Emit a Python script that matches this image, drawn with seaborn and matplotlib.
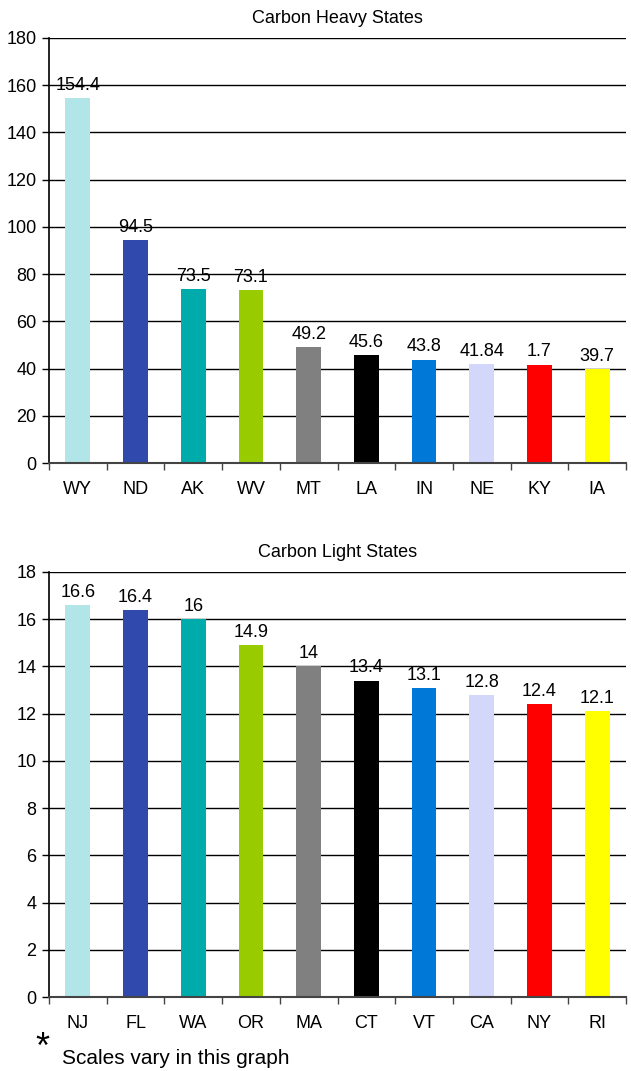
import matplotlib
matplotlib.use("Agg")
import matplotlib.pyplot as plt
import seaborn as sns
import numpy as np

heavy_states = ["WY", "ND", "AK", "WV", "MT", "LA", "IN", "NE", "KY", "IA"]
heavy_values = [154.4, 94.5, 73.5, 73.1, 49.2, 45.6, 43.8, 41.84, 41.7, 39.7]
heavy_labels = ["154.4", "94.5", "73.5", "73.1", "49.2", "45.6", "43.8", "41.84", "1.7", "39.7"]
heavy_ticks = [0, 20, 40, 60, 80, 100, 120, 140, 160, 180]

light_states = ["NJ", "FL", "WA", "OR", "MA", "CT", "VT", "CA", "NY", "RI"]
light_values = [16.6, 16.4, 16.0, 14.9, 14.0, 13.4, 13.1, 12.8, 12.4, 12.1]
light_labels = ["16.6", "16.4", "16", "14.9", "14", "13.4", "13.1", "12.8", "12.4", "12.1"]
light_ticks = [0, 2, 4, 6, 8, 10, 12, 14, 16, 18]

colors = ["#B2E5E8", "#3049AC", "#00ABAB", "#99CC00", "#808080",
          "#000000", "#0078D7", "#D3D7FA", "#FF0000", "#FFFF00"]

sns.set_theme(style="white")
plt.rcParams['font.family'] = ['Liberation Sans', 'DejaVu Sans']

FS = 13

fig = plt.figure(figsize=(6.31, 10.71), dpi=100)
ax1 = fig.add_axes([49/631, 1 - 463/1071, 577/631, 425/1071])
ax2 = fig.add_axes([49/631, 1 - 997/1071, 577/631, 425/1071])


def draw(ax, states, values, labels, ticks, title):
    sns.barplot(x=states, y=values, hue=states, palette=colors, legend=False,
                width=0.43, saturation=1, ax=ax, zorder=3, linewidth=0,
                edgecolor="none")
    ax.set_ylim(ticks[0], ticks[-1])
    ax.set_xlim(-0.5, len(states) - 0.5)
    ax.set_yticks(ticks)
    ax.yaxis.grid(True, color="black", linewidth=1.0, zorder=0)
    ax.set_axisbelow(True)
    for s in ["top", "right"]:
        ax.spines[s].set_visible(False)
    ax.spines["left"].set_color("black")
    ax.spines["left"].set_linewidth(1.2)
    ax.spines["bottom"].set_color("#444444")
    ax.spines["bottom"].set_linewidth(1.5)
    ax.spines["bottom"].set_zorder(4)
    ax.tick_params(axis="y", which="major", left=True, length=5, width=1,
                   color="black", labelsize=FS, pad=4, labelcolor="black")
    ax.tick_params(axis="x", which="major", bottom=False, labelsize=FS,
                   pad=7, labelcolor="black")
    ax.set_xticks(np.arange(-0.5, len(states) + 0.5, 1), minor=True)
    ax.tick_params(axis="x", which="minor", bottom=True, length=5, width=1,
                   color="#444444")
    ax.set_xlabel("")
    ax.set_ylabel("")
    ax.set_title(title, fontsize=FS, color="black", pad=11)
    for i, (v, lab) in enumerate(zip(values, labels)):
        ax.annotate(lab, (i, v), xytext=(0, 3), textcoords="offset points",
                    ha="center", va="bottom", fontsize=FS, color="black",
                    zorder=5)


draw(ax1, heavy_states, heavy_values, heavy_labels, heavy_ticks, "Carbon Heavy States")
draw(ax2, light_states, light_values, light_labels, light_ticks, "Carbon Light States")

fig.text(35/631, 1 - 1058/1071, "*", fontsize=26, color="black", ha="left", va="baseline")
fig.text(62/631, 1 - 1064/1071, "Scales vary in this graph", fontsize=15,
         color="black", ha="left", va="baseline")

fig.savefig("out.png", dpi=100)
